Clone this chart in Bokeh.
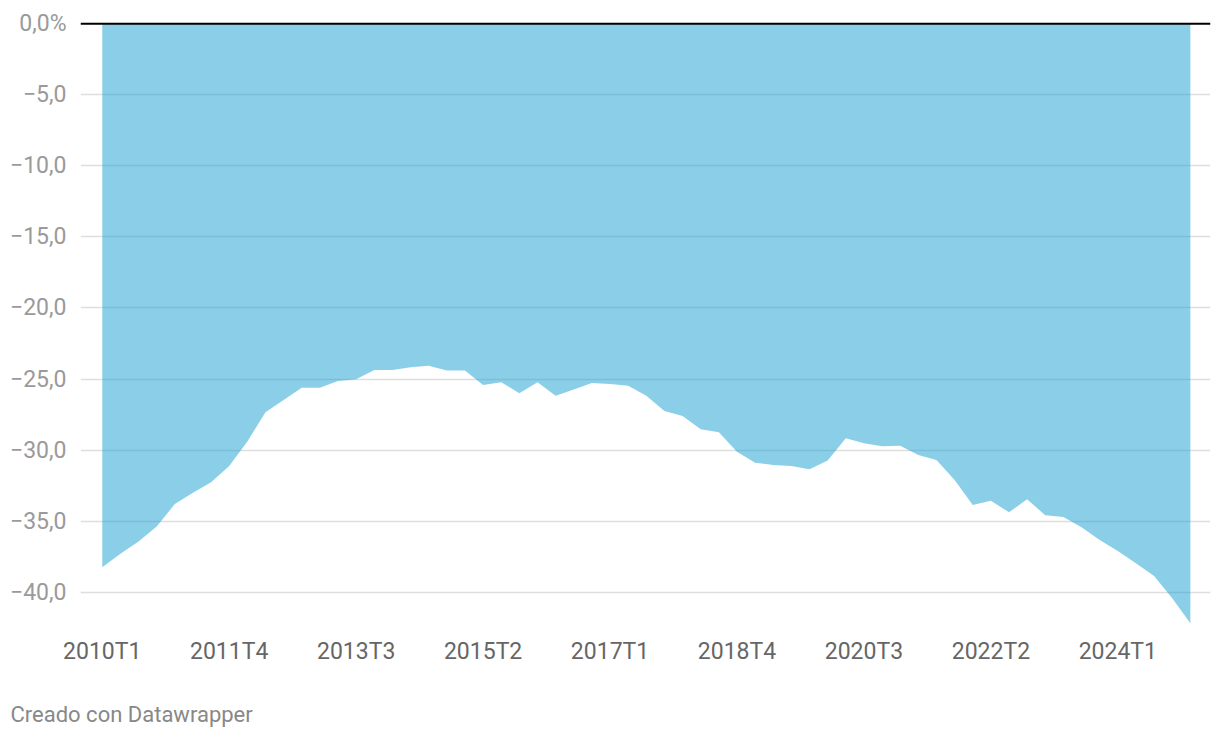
from bokeh.plotting import figure
from bokeh.models import Range1d, FixedTicker, Span, Title
from bokeh.embed import file_html
from bokeh.resources import INLINE

quarters = [f"{y}T{q}" for y in range(2010, 2026) for q in range(1, 5)][:61]
values = [-38.24, -37.3, -36.44, -35.38, -33.8, -33.0, -32.27, -31.12, -29.4, -27.34,
          -26.48, -25.61, -25.61, -25.14, -25.02, -24.37, -24.37, -24.18, -24.06, -24.41,
          -24.41, -25.42, -25.23, -26.0, -25.23, -26.17, -25.73, -25.28, -25.35, -25.47,
          -26.17, -27.25, -27.6, -28.54, -28.75, -30.11, -30.89, -31.05, -31.12, -31.35,
          -30.74, -29.17, -29.52, -29.73, -29.69, -30.34, -30.70, -32.1, -33.86, -33.56,
          -34.38, -33.46, -34.59, -34.70, -35.43, -36.32, -37.1, -37.96, -38.85, -40.42,
          -42.18]
x_tick_idx = [0, 7, 14, 21, 28, 35, 42, 49, 56]
y_ticks = [0, -5, -10, -15, -20, -25, -30, -35, -40]
y_tick_labels = ["0,0%", "\u22125,0", "\u221210,0", "\u221215,0", "\u221220,0",
                 "\u221225,0", "\u221230,0", "\u221235,0", "\u221240,0"]
footer = "Creado con Datawrapper"

xs = list(range(len(values)))

p = figure(frame_width=1130, frame_height=602, output_backend="svg", toolbar_location=None,
           x_range=Range1d(-1.2, 61.11), y_range=Range1d(-42.2, 0.15),
           min_border_left=80, min_border_right=2, min_border_top=21,
           min_border_bottom=0)
p.outline_line_color = None
p.background_fill_color = "white"
p.border_fill_color = "white"

p.varea(x=xs, y1=[0] * len(values), y2=values, fill_color="#15A0D0", fill_alpha=0.5)

p.add_layout(Span(location=0, dimension="width", line_color="#000000", line_width=2))

# axes
p.xaxis.ticker = FixedTicker(ticks=x_tick_idx)
p.xaxis.major_label_overrides = {i: quarters[i] for i in x_tick_idx}
p.xaxis.axis_line_color = None
p.xaxis.major_tick_line_color = None
p.xaxis.minor_tick_line_color = None
p.xaxis.major_label_standoff = 8
p.xaxis.major_label_text_font = "Roboto"
p.xaxis.major_label_text_font_size = "23px"
p.xaxis.major_label_text_color = "#666666"

p.yaxis.ticker = FixedTicker(ticks=y_ticks)
p.yaxis.major_label_overrides = dict(zip(y_ticks, y_tick_labels))
p.yaxis.axis_line_color = None
p.yaxis.major_tick_line_color = None
p.yaxis.minor_tick_line_color = None
p.yaxis.major_label_standoff = 8
p.yaxis.major_label_text_font = "Roboto"
p.yaxis.major_label_text_font_size = "23px"
p.yaxis.major_label_text_color = "#9a9a9a"

p.xgrid.grid_line_color = None
p.ygrid.ticker = FixedTicker(ticks=y_ticks[1:])
p.ygrid.grid_line_color = "#dedede"
p.ygrid.grid_line_width = 1.5

p.add_layout(Title(text=footer, align="left", offset=-70, standoff=64,
                   text_font="Roboto", text_font_size="22px", text_color="#888888",
                   text_font_style="normal"), "below")

open("out.html", "w").write(file_html(p, INLINE))
